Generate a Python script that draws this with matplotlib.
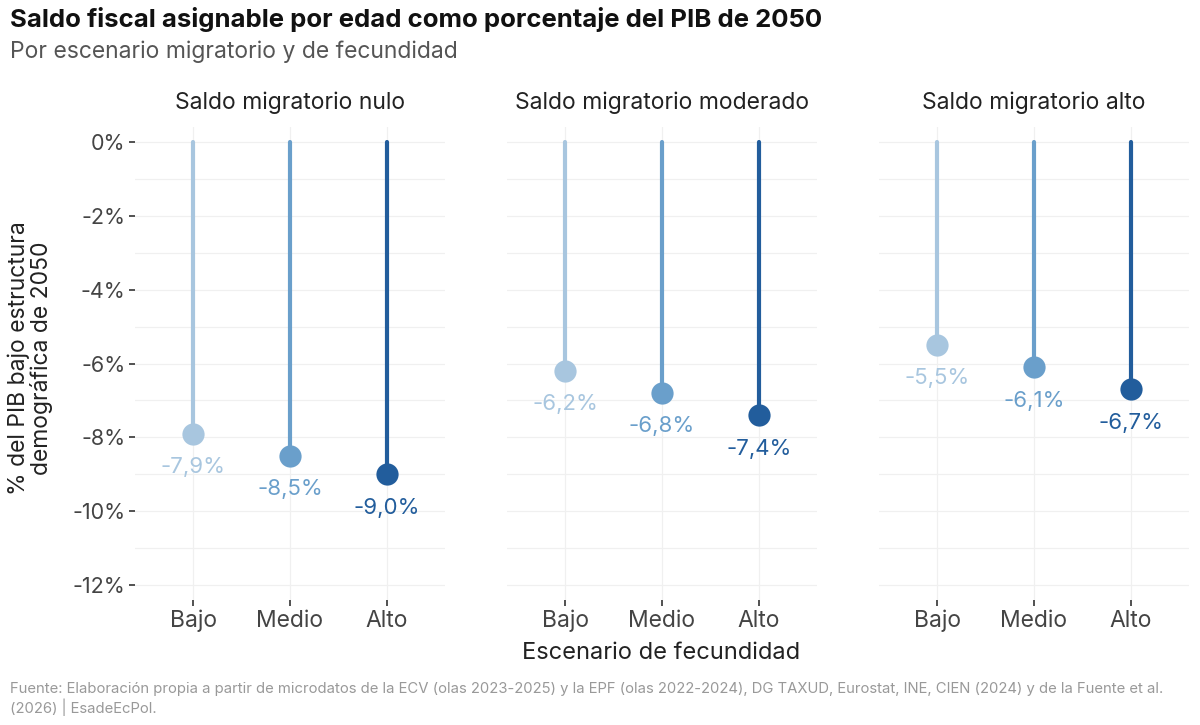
import matplotlib
matplotlib.use("Agg")
import matplotlib.pyplot as plt
from matplotlib.ticker import MultipleLocator, FuncFormatter

plt.rcParams['font.family'] = ['Inter', 'DejaVu Sans']

panels = ["Saldo migratorio nulo", "Saldo migratorio moderado", "Saldo migratorio alto"]
categories = ["Bajo", "Medio", "Alto"]
values = {
    "Saldo migratorio nulo": [-7.9, -8.5, -9.0],
    "Saldo migratorio moderado": [-6.2, -6.8, -7.4],
    "Saldo migratorio alto": [-5.5, -6.1, -6.7],
}
colors = ["#a8c6df", "#6a9fcb", "#225d9c"]
yticks = [0, -2, -4, -6, -8, -10, -12]

fig = plt.figure(figsize=(12, 7.25), dpi=100)
lefts = [135/1200, 507/1200, 879/1200]
width = 310/1200
bottom = 1 - 600/725
height = (600 - 127)/725

txtgray = "#444444"
for i, (p, left) in enumerate(zip(panels, lefts)):
    ax = fig.add_axes([left, bottom, width, height])
    ax.set_xlim(-0.6, 2.6)
    ax.set_ylim(-12.4, 0.4)
    for s in ax.spines.values():
        s.set_visible(False)
    ax.yaxis.set_major_locator(MultipleLocator(2))
    ax.yaxis.set_minor_locator(MultipleLocator(1))
    ax.grid(True, which='both', axis='y', color='#f0f0f0', lw=0.9)
    ax.grid(True, which='major', axis='x', color='#f0f0f0', lw=0.9)
    ax.set_axisbelow(True)
    ax.set_xticks(range(3))
    ax.set_xticklabels(categories)
    ax.set_yticks(yticks)
    ax.tick_params(which='minor', length=0)
    ax.tick_params(axis='both', which='major', length=4, width=1.2, color='#333333',
                   labelsize=15.5, labelcolor=txtgray, pad=3)
    ax.tick_params(axis='x', labelsize=16.5)
    if i == 0:
        ax.yaxis.set_major_formatter(FuncFormatter(lambda v, pos: f"{v:.0f}%".replace("-0%", "0%")))
    else:
        ax.tick_params(axis='y', which='major', length=0, labelleft=False)
    vals = values[p]
    for j, v in enumerate(vals):
        ax.plot([j, j], [0, v], color=colors[j], lw=3, solid_capstyle='round', zorder=2)
        ax.plot([j], [v], 'o', color=colors[j], ms=16, mec='none', zorder=3)
        ax.annotate(f"{v:.1f}%".replace(".", ","), (j, v), xytext=(0, -24),
                    textcoords='offset points', ha='center', va='center',
                    fontsize=16, color=colors[j])
    ax.set_title(p, fontsize=16.5, color='#222222', pad=13)

fig.text(10/1200, 1 - 20/725, "Saldo fiscal asignable por edad como porcentaje del PIB de 2050",
         fontsize=18.5, fontweight='bold', color='#111111', va='center', ha='left')
fig.text(10/1200, 1 - 52/725, "Por escenario migratorio y de fecundidad",
         fontsize=16.5, color='#555555', va='center', ha='left')
fig.text(30/1200, 1 - 358/725, "% del PIB bajo estructura\ndemográfica de 2050",
         rotation=90, fontsize=16.5, color='#222222', va='center', ha='center', linespacing=1.0)
fig.text(661/1200, 1 - 653/725, "Escenario de fecundidad", fontsize=17, color='#222222',
         va='center', ha='center')
fig.text(10/1200, 1 - 699/725,
         "Fuente: Elaboración propia a partir de microdatos de la ECV (olas 2023-2025) y la EPF (olas 2022-2024), DG TAXUD, Eurostat, INE, CIEN (2024) y de la Fuente et al.\n(2026) | EsadeEcPol.",
         fontsize=10.7, color='#999999', va='center', ha='left', linespacing=1.15)

fig.savefig("out.png", dpi=100)
